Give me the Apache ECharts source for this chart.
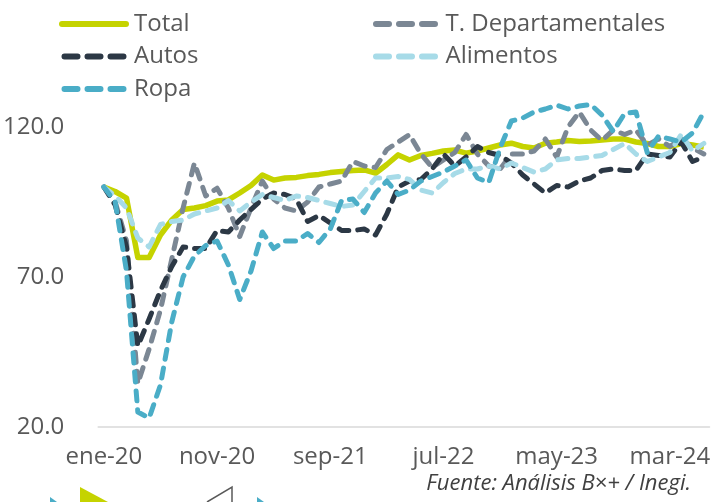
<!DOCTYPE html>
<html lang="es">
<head>
  <meta charset="UTF-8">
  <title>Ventas</title>
  <script src="https://cdn.jsdelivr.net/npm/echarts@6.0.0/dist/echarts.min.js"></script>
  <style>
    html, body { margin: 0; padding: 0; background: #fff; }
  </style>
</head>
<body>
<div id="main" style="width: 713px;height:502px;"></div>
<script type="text/javascript">

  // meses (ene-20 .. jun-24)
  const months = [
    'ene-20','feb-20','mar-20','abr-20','may-20','jun-20','jul-20','ago-20','sep-20','oct-20','nov-20','dic-20',
    'ene-21','feb-21','mar-21','abr-21','may-21','jun-21','jul-21','ago-21','sep-21','oct-21','nov-21','dic-21',
    'ene-22','feb-22','mar-22','abr-22','may-22','jun-22','jul-22','ago-22','sep-22','oct-22','nov-22','dic-22',
    'ene-23','feb-23','mar-23','abr-23','may-23','jun-23','jul-23','ago-23','sep-23','oct-23','nov-23','dic-23',
    'ene-24','feb-24','mar-24','abr-24','may-24','jun-24'
  ];

  const total = [100, 98.5, 96.3, 76.5, 76.5, 84, 89, 92.5, 93, 93.8,
    95.3, 95.7, 98, 100.5, 104, 102.3, 103, 103.2, 103.8, 104.2,
    104.8, 105.2, 105.5, 105.7, 104.6, 107.5, 110.7, 109, 110.5, 111.2,
    112, 112.3, 111.3, 112, 113, 114, 114.6, 113.5, 113, 114.6,
    115, 115.5, 115.2, 115.3, 115.7, 116, 116, 115, 114.5, 113.5,
    113.5, 114.5, 114, 113.3];

  const departamentales = [100, 95, 82, 34.5, 46, 59, 76, 93, 108, 97,
    99.6, 93, 83.5, 93, 102, 96, 93, 92, 95, 100,
    101, 102, 108.5, 107, 106.5, 112.5, 115, 117.5, 111, 106.5,
    109, 111.5, 117.5, 111, 107, 106, 111, 111, 112, 116,
    110, 120, 125, 119, 115.5, 119, 117.5, 119, 114, 116,
    113.5, 116, 113, 111];

  const autos = [100, 94, 80, 47, 56, 65.5, 73.5, 80, 79.5, 79.5,
    85.5, 85, 89, 92.5, 96, 98, 97.5, 96, 88.5, 90.5,
    88, 85.5, 85.5, 86, 84, 91, 100, 102, 102.5, 106,
    111, 107, 110, 113.5, 111.5, 110.5, 108, 104, 101, 98,
    100.5, 100, 102, 103, 105.5, 106, 105.5, 105.5, 111, 110.5,
    110, 115, 108.5, 110];

  const alimentos = [100, 97, 93, 83, 80, 87.5, 88.5, 89, 91, 92,
    93, 95.5, 92, 95, 97.5, 96.5, 95.5, 97, 96.5, 95.5,
    94.5, 93.5, 94, 98.5, 103, 103, 103.5, 102.5, 99, 98,
    101.5, 104.5, 106, 106, 107, 106, 108, 106.5, 105, 106,
    109, 109.5, 109.5, 110, 110.5, 112.5, 114.5, 111, 108.5, 110,
    111.5, 117.5, 112, 114.5];

  const ropa = [100, 95, 72, 25, 23, 34, 55, 70, 77, 80.5,
    82, 74, 62.5, 72, 85, 79.5, 82, 82, 84.5, 81.5,
    86, 95.5, 96, 91.5, 98, 102, 97.5, 99, 102, 103.5,
    105, 107, 109, 103, 101.5, 113, 122, 123, 125, 126,
    127.3, 126, 127, 127.5, 124, 118.5, 124.5, 125, 111.5, 117,
    116, 115, 118, 125];

  const yTicks = [20, 70, 120];

  const font = 'Open Sans';
  const textColor = '#595959';

  // iconos de la leyenda: línea continua y tres guiones redondeados
  const solidIcon = 'path://M3,0L67,0A3,3 0 0 1 67,6L3,6A3,3 0 0 1 3,0Z';
  const dashIcon = 'path://M3,0L16,0A3,3 0 0 1 16,6L3,6A3,3 0 0 1 3,0Z' +
    'M26,0L39,0A3,3 0 0 1 39,6L26,6A3,3 0 0 1 26,0Z' +
    'M49,0L62,0A3,3 0 0 1 62,6L49,6A3,3 0 0 1 49,0Z';

  function dashed(name, data, color) {
    return {
      name: name,
      type: 'line',
      data: data,
      symbol: 'none',
      color: color,
      lineStyle: {width: 5, color: color, type: [10, 9], cap: 'round', join: 'round'}
    };
  }

  var myChart = echarts.init(document.getElementById('main'));

  const legendText = {fontSize: 24, color: textColor, fontFamily: font, lineHeight: 26};

  myChart.setOption({
    animation: false,
    backgroundColor: '#fff',
    textStyle: {fontFamily: font},
    grid: {left: 96, right: 3, top: 97, bottom: 75, containLabel: false},
    legend: [
      {
        data: [
          {name: 'Total', icon: solidIcon},
          {name: 'Autos', icon: dashIcon},
          {name: 'Ropa', icon: dashIcon}
        ],
        orient: 'vertical',
        left: 54, top: 6,
        itemWidth: 70, itemHeight: 6, itemGap: 6.5,
        textStyle: legendText
      },
      {
        data: [
          {name: 'T. Departamentales', icon: dashIcon},
          {name: 'Alimentos', icon: dashIcon}
        ],
        orient: 'vertical',
        left: 368, top: 6,
        itemWidth: 70, itemHeight: 6, itemGap: 6.5,
        textStyle: legendText
      }
    ],
    xAxis: {
      type: 'category',
      data: months,
      boundaryGap: true,
      axisLine: {lineStyle: {color: '#d9d9d9', width: 1.5}},
      axisTick: {alignWithLabel: true, interval: 9, length: 8, lineStyle: {color: '#d9d9d9', width: 1.5}},
      axisLabel: {interval: 9, margin: 18, fontSize: 24, color: textColor, fontFamily: font},
      splitLine: {show: false}
    },
    yAxis: {
      type: 'value',
      min: 20,
      max: 130,
      interval: 50,
      axisLine: {show: false},
      axisTick: {show: false},
      splitLine: {show: false},
      axisLabel: {
        margin: 34, fontSize: 24, color: textColor, fontFamily: font,
        formatter: function (v) {
          return yTicks.indexOf(v) >= 0 ? v.toFixed(1) : '';
        }
      }
    },
    series: [
      {
        name: 'Total',
        type: 'line',
        data: total,
        symbol: 'none',
        color: '#c5d300',
        lineStyle: {width: 5.5, color: '#c5d300', join: 'round'}
      },
      dashed('T. Departamentales', departamentales, '#7b8794'),
      dashed('Autos', autos, '#2c3845'),
      dashed('Alimentos', alimentos, '#a7dbe8'),
      dashed('Ropa', ropa, '#4aadc7')
    ],
    graphic: [
      {
        type: 'text', right: 22, top: 473,
        style: {
          text: 'Fuente: Análisis B×+ / Inegi.',
          font: 'italic 22px "Open Sans"',
          fill: '#404040'
        }
      },
      {type: 'polygon', shape: {points: [[50, 497], [57, 502], [50, 502]]}, style: {fill: '#4aadc7'}},
      {type: 'polygon', shape: {points: [[80, 487], [108, 502], [80, 502]]}, style: {fill: '#c5d300'}},
      {type: 'polyline', shape: {points: [[207, 502], [232, 487], [232, 502]]}, style: {stroke: '#595959', lineWidth: 1.5, fill: null}},
      {type: 'polygon', shape: {points: [[257, 497], [264, 502], [257, 502]]}, style: {fill: '#4aadc7'}}
    ]
  });

</script>
</body>
</html>
